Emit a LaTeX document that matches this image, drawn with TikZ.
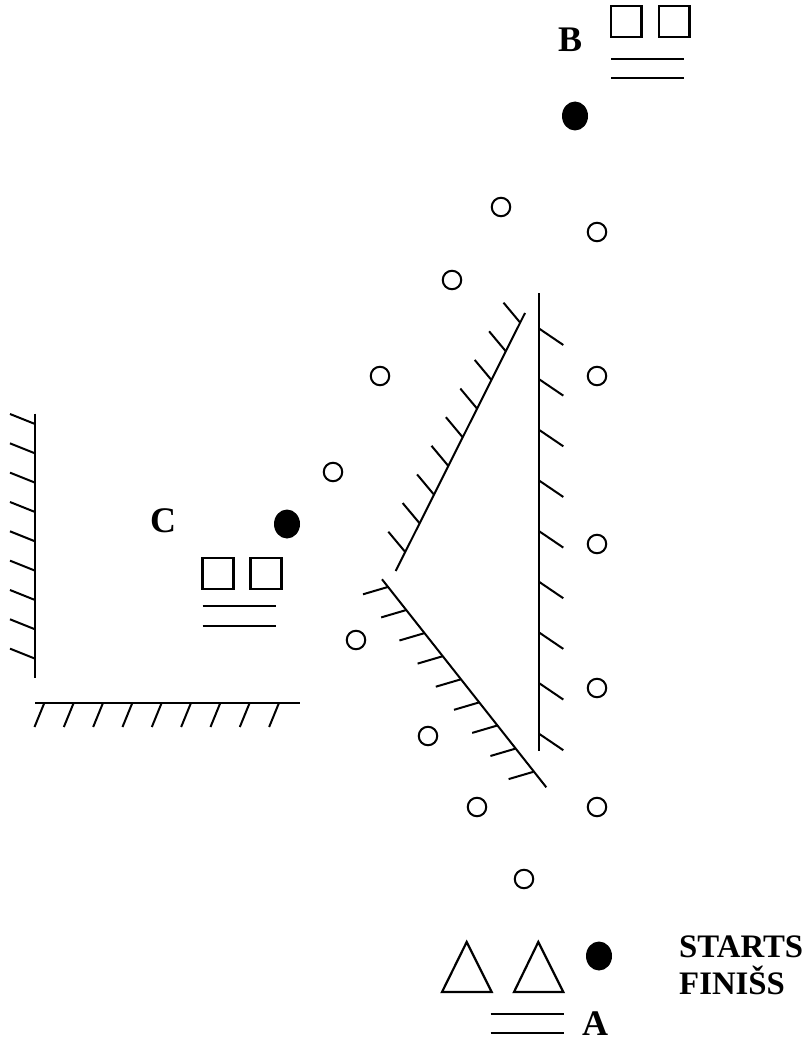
\documentclass[tikz,border=0pt]{standalone}
\usepackage{fontspec}
\setmainfont{Liberation Serif}
\usetikzlibrary{shapes.geometric}
\tikzset{
  x=1pt,y=-1pt,
  ln/.style={line width=2.2pt,black},
  thin ln/.style={line width=2pt,black},
  marker/.style={circle,draw=black,line width=2pt,minimum size=18.5pt,inner sep=0pt,fill=white},
  blackdot/.style={ellipse,fill=black,draw=none,minimum width=26pt,minimum height=29pt,inner sep=0pt},
  big/.style={font=\fontsize{36}{36}\selectfont\bfseries,anchor=base west,inner sep=0pt},
  small/.style={font=\fontsize{32.8}{37}\selectfont\bfseries,anchor=base west,inner sep=0pt},
}
\begin{document}
\begin{tikzpicture}
\useasboundingbox (0,0) rectangle (805,1038);
% markers
\foreach \n/\p in {m1/{501,207},m2/{597,232},m3/{452,280},m4/{380,376},m5/{597,376},m6/{333,472},m7/{597,544},m8/{356,640},m9/{597,688},m10/{428,736},m11/{477,807},m12/{597,807},m13/{524,879}}
  \node[marker] (\n) at (\p) {};
\node[blackdot] (dotB) at (575,116) {};
\node[blackdot] (dotC) at (287,524) {};
\node[blackdot] (dotA) at (599,956) {};
% left wall
\draw[ln] (35,413.5) -- (35,678);
\foreach \i in {0,...,8} \draw[thin ln] (10,414+29.33*\i) -- (35,424+29.33*\i);
% bottom wall
\draw[ln] (35,703) -- (300,703);
\foreach \i in {0,...,8} \draw[thin ln] (44.3+29.33*\i,703) -- (34.5+29.33*\i,727);
% right wall
\draw[ln] (538.7,293.3) -- (538.7,750.7);
\foreach \i in {0,...,8} \draw[thin ln] (538.7,328.3+50.65*\i) -- (563.3,345+50.65*\i);
% upper diagonal
\draw[thin ln] (395.7,571) -- (525,313);
\foreach \i in {0,...,8} \draw[thin ln] (405+14.4*\i,551.7-28.63*\i) -- (388.3+14.4*\i,531.7-28.63*\i);
% lower diagonal
\draw[thin ln] (382,579.3) -- (546.3,787.3);
\foreach \i in {0,...,8} \draw[thin ln] (387.8+18.2*\i,587+23.1*\i) -- (363+18.2*\i,594.3+23.1*\i);
% B group
\draw[ln] (610.7,6) rectangle (641.5,36.7);
\draw[ln] (658.7,6) rectangle (689.5,36.7);
\draw[thin ln] (611,59) -- (684,59);
\draw[thin ln] (611,78) -- (684,78);
% C group
\draw[ln] (202.5,558) rectangle (233.5,589);
\draw[ln] (250.5,558) rectangle (281.5,589);
\draw[thin ln] (202.5,606) -- (275.5,606);
\draw[thin ln] (202.5,625.7) -- (275.5,625.7);
% A group
\draw[ln,line join=miter] (442,992) -- (466.7,942) -- (491.7,992) -- cycle;
\draw[ln,line join=miter] (514,992) -- (538.3,942) -- (563.3,992) -- cycle;
\draw[thin ln] (490.5,1014) -- (564,1014);
\draw[thin ln] (490.5,1033) -- (564,1033);
% labels
\node[big] (labB) at (558,51.7) {B};
\node[big] (labC) at (150,532.7) {C};
\node[big] (labA) at (582,1035) {A};
\node[small] (labS) at (679,957) {STARTS};
\node[small] (labF) at (679,994) {FINIŠS};
\end{tikzpicture}
\end{document}
